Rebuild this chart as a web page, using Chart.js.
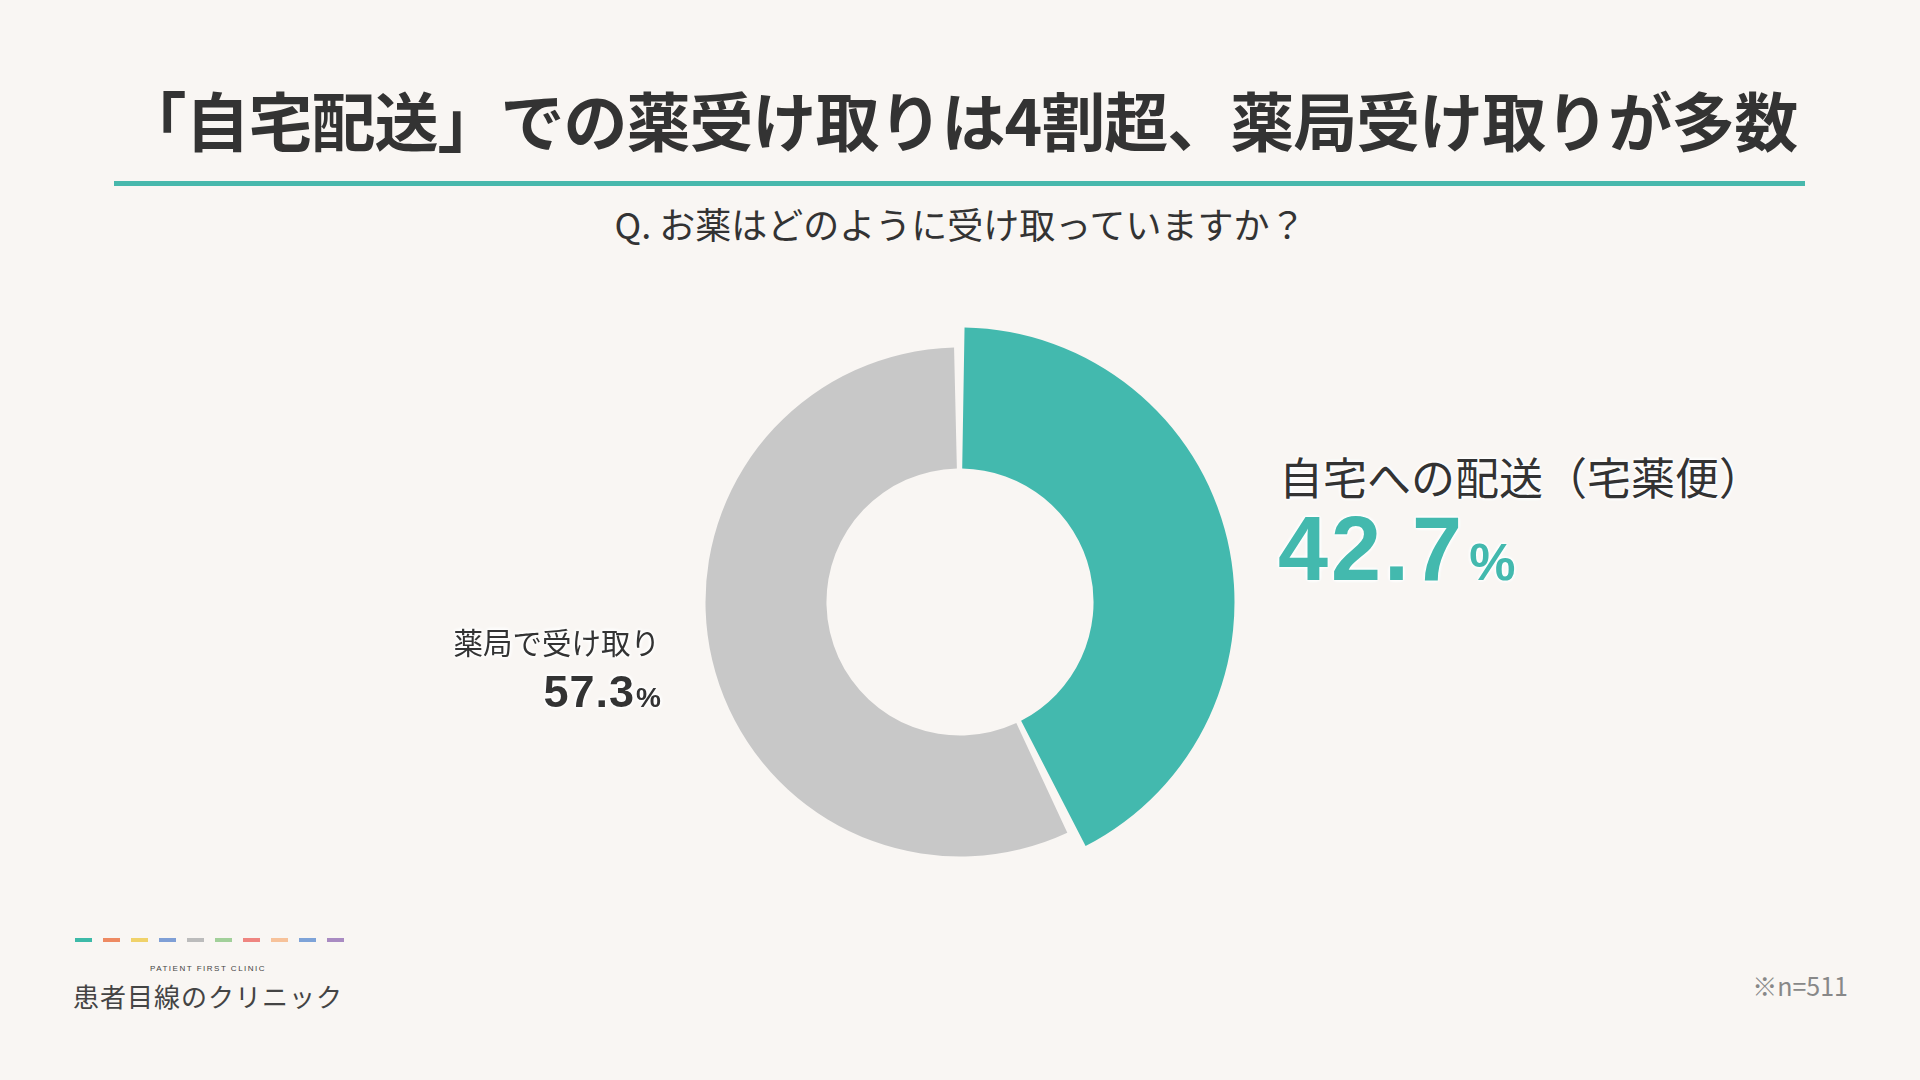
<!DOCTYPE html>
<html lang="ja">
<head>
<meta charset="utf-8">
<title>お薬の受け取り方法</title>
<script src="https://cdn.jsdelivr.net/npm/chart.js@4.4.1/dist/chart.umd.min.js"></script>
<style>
  html, body { margin: 0; padding: 0; }
  body {
    width: 1920px; height: 1080px; overflow: hidden; position: relative;
    background: #f9f6f3; color: #333;
    font-family: "Noto Sans CJK JP", "Noto Sans", sans-serif;
  }
  .abs { position: absolute; white-space: nowrap; }
  #title {
    left: 0; width: 1920px; top: 86px; text-align: center;
    font-size: 64px; line-height: 64px; font-weight: 700; letter-spacing: -1px;
    color: #333;
  }
  #rule { left: 114px; width: 1691px; top: 181px; height: 5px; background: #48b8ac; }
  #question {
    left: 0; width: 1920px; top: 205px; text-align: center;
    font-size: 36px; line-height: 36px; color: #333;
  }
  #chartBox { left: 660px; top: 302px; width: 600px; height: 600px; }
  .halo { text-shadow: 0 0 4px #fff, 0 0 4px #fff, 0 0 4px #fff, 0 0 3px #fff; }
  .num { font-family: "Liberation Sans", Arial, sans-serif; font-weight: 700; line-height: 1; }
  #homeName { left: 1279px; top: 454px; font-size: 44px; line-height: 44px; color: #333; }
  #homeValue { left: 1278px; top: 504px; font-size: 90px; color: #43b9ae; letter-spacing: 3px; }
  #homeValue .pct { font-size: 52px; margin-left: 4px; letter-spacing: 0; }
  #shopName { right: 1260px; top: 626px; font-size: 29.5px; line-height: 30px; color: #333; text-align: right; }
  #shopValue { right: 1259px; top: 669px; font-size: 45px; color: #333; letter-spacing: 1px; text-align: right; }
  #shopValue .pct { font-size: 28px; margin-left: 1px; letter-spacing: 0; }
  #dashes { left: 75px; top: 938px; display: flex; gap: 11px; }
  #dashes span { display: block; width: 17px; height: 4px; }
  #brandEn {
    left: 150px; top: 965px; font-family: "Liberation Sans", Arial, sans-serif;
    font-size: 8px; line-height: 8px; letter-spacing: 1.5px; color: #444;
  }
  #brand { left: 73px; top: 983px; font-size: 26px; line-height: 26px; letter-spacing: 1px; color: #444; }
  #note { right: 72px; top: 973px; font-size: 25px; line-height: 25px; color: #888; }
</style>
</head>
<body>
<div id="title" class="abs">「自宅配送」での薬受け取りは4割超、薬局受け取りが多数</div>
<div id="rule" class="abs"></div>
<div id="question" class="abs">Q. お薬はどのように受け取っていますか？</div>

<div id="chartBox" class="abs"><canvas id="receiveChart"></canvas></div>

<div id="homeName" class="abs halo"></div>
<div id="homeValue" class="abs num halo"></div>
<div id="shopName" class="abs halo"></div>
<div id="shopValue" class="abs num halo"></div>

<div id="dashes" class="abs"></div>
<div id="brandEn" class="abs">PATIENT FIRST CLINIC</div>
<div id="brand" class="abs">患者目線のクリニック</div>
<div id="note" class="abs">※n=511</div>

<script>
const categories = ['自宅への配送（宅薬便）', '薬局で受け取り'];
const shares = [42.7, 57.3];
const sliceColors = ['#43b9ae', '#c8c8c8'];

const brandColors = ['#3dbaa8', '#ee8a62', '#f0d26a', '#7f9fd6', '#bcbcbc',
  '#a2d09a', '#ef8580', '#f7c29a', '#7ea3d8', '#a98bc2'];

// the teal slice sticks out past the grey one
const highlightIndex = 0;
const highlightExtra = 20;

window.addEventListener('DOMContentLoaded', () => {
  document.getElementById('homeName').textContent = categories[0];
  document.getElementById('homeValue').innerHTML = shares[0].toFixed(1) + '<span class="pct">%</span>';
  document.getElementById('shopName').textContent = categories[1];
  document.getElementById('shopValue').innerHTML = shares[1].toFixed(1) + '<span class="pct">%</span>';

  const dashes = document.getElementById('dashes');
  brandColors.forEach(c => {
    const s = document.createElement('span');
    s.style.background = c;
    dashes.appendChild(s);
  });

  const growSlice = {
    id: 'growSlice',
    afterDatasetsUpdate(chart) {
      const arc = chart.getDatasetMeta(0).data[highlightIndex];
      if (arc) arc.outerRadius += highlightExtra;
    }
  };

  new Chart(document.getElementById('receiveChart'), {
    type: 'doughnut',
    data: {
      labels: categories,
      datasets: [{
        label: 'お薬の受け取り方法',
        data: shares,
        backgroundColor: sliceColors,
        borderWidth: 0,
        spacing: 5
      }]
    },
    options: {
      responsive: true,
      maintainAspectRatio: false,
      animation: false,
      radius: 252,
      cutout: '52%',
      plugins: {
        legend: { display: false },
        tooltip: { enabled: false }
      }
    },
    plugins: [growSlice]
  });
});
</script>
</body>
</html>
